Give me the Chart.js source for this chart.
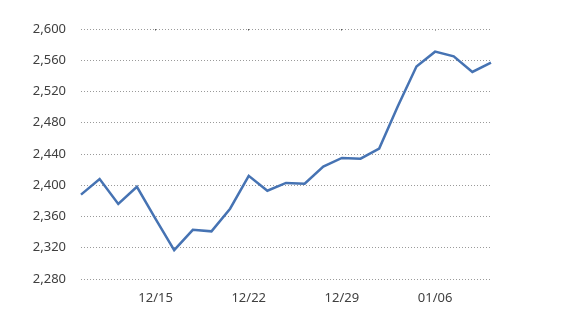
<!DOCTYPE html>
<html>
<head>
<meta charset="utf-8">
<script src="https://cdn.jsdelivr.net/npm/chart.js"></script>
<style>
  html, body { margin: 0; padding: 0; background: #fff; }
  #wrap { width: 565px; height: 321px; }
</style>
</head>
<body>
<div id="wrap"><canvas id="chart" width="565" height="321"></canvas></div>
<script>
// 날짜 (거래일)
const dates = [
  "12/09", "12/10", "12/11", "12/12",
  "12/15", "12/16", "12/17", "12/18", "12/19",
  "12/22", "12/23", "12/24", "12/25", "12/26",
  "12/29", "12/30", "12/31", "01/02", "01/05",
  "01/06", "01/07", "01/08", "01/09"
];
// 종가
const values = [
  2388, 2408, 2376, 2398,
  2357, 2317, 2343, 2341, 2370,
  2412, 2393, 2403, 2402, 2424,
  2435, 2434, 2447, 2501, 2552,
  2571, 2565, 2545, 2557
];
// 표시할 x축 라벨
const shownLabels = ["12/15", "12/22", "12/29", "01/06"];
const yMin = 2280;
const yMax = 2600;
const yStep = 40;

const isShown = (i) => shownLabels.includes(dates[i]);

new Chart(document.getElementById("chart").getContext("2d"), {
  type: "line",
  data: {
    labels: dates,
    datasets: [{
      data: values,
      borderColor: "#4673b3",
      borderWidth: 2.5,
      pointRadius: 0,
      tension: 0,
      fill: false
    }]
  },
  options: {
    responsive: false,
    animation: false,
    layout: { padding: { top: 29, right: 74, bottom: 0, left: 0 } },
    plugins: { legend: { display: false }, tooltip: { enabled: false } },
    scales: {
      x: {
        offset: false,
        border: { display: false, dash: [1.5, 248.8] },
        grid: {
          drawTicks: false,
          color: (ctx) => isShown(ctx.index) ? "#555" : "rgba(0,0,0,0)",
          lineWidth: 1
        },
        ticks: {
          autoSkip: false,
          maxRotation: 0,
          padding: 11,
          color: "#404040",
          font: { family: "Noto Sans", size: 13 },
          callback: (v, i) => isShown(i) ? dates[i] : ""
        },
        afterFit: (scale) => { scale.height = 42; }
      },
      y: {
        min: yMin,
        max: yMax,
        border: { display: false, dash: [1, 2] },
        grid: {
          drawTicks: false,
          color: "#9a9a9a",
          lineWidth: 1
        },
        ticks: {
          stepSize: yStep,
          padding: 15,
          color: "#404040",
          font: { family: "Noto Sans", size: 13 },
          callback: (v) => v.toLocaleString("en-US")
        },
        afterFit: (scale) => { scale.width = 81; }
      }
    }
  }
});
</script>
</body>
</html>
